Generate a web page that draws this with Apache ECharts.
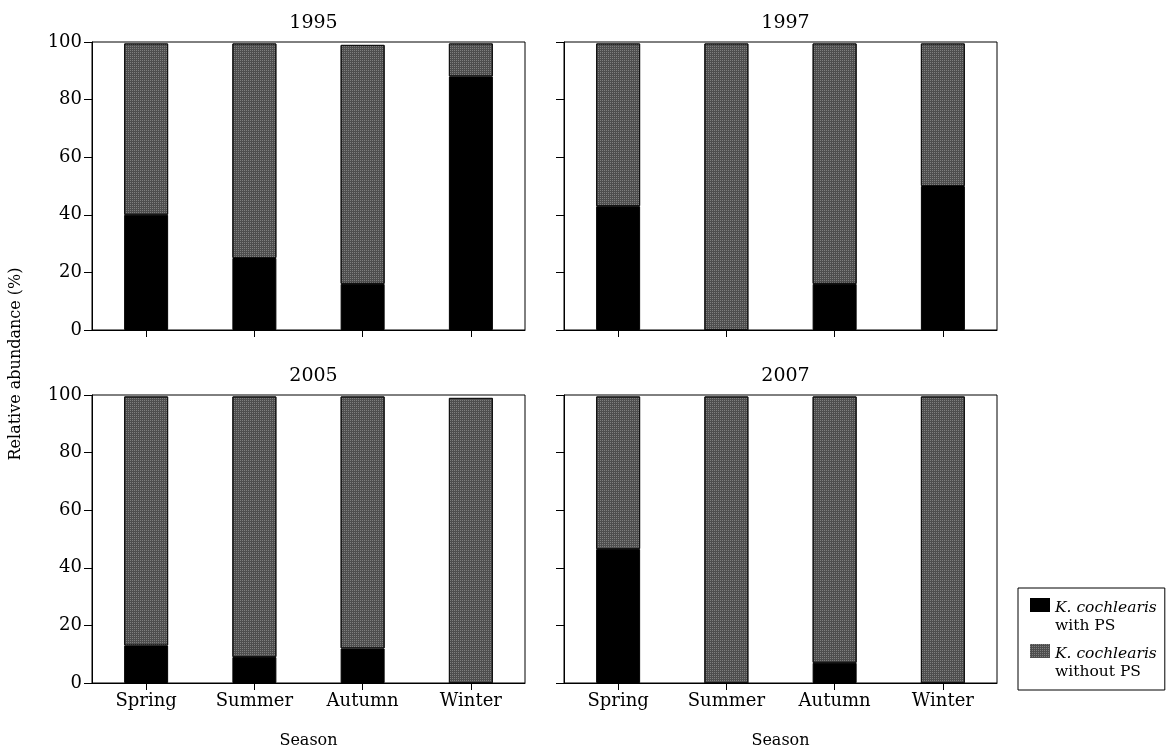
<!DOCTYPE html>
<html><head><meta charset="utf-8">
<script src="https://cdn.jsdelivr.net/npm/echarts@6/dist/echarts.min.js"></script>
<style>html,body{margin:0;padding:0;background:#fff}#c{width:1172px;height:753px}</style>
</head><body><div id="c"></div>
<script>
// ---- data ----
const seasons = ['Spring', 'Summer', 'Autumn', 'Winter'];
const years = ['1995', '1997', '2005', '2007'];
const yTicks = [0, 20, 40, 60, 80, 100];
const withPS_1995 = [40, 25, 16, 88];
const withoutPS_1995 = [59.5, 74.5, 83, 11.5];
const withPS_1997 = [43, 0, 16, 50];
const withoutPS_1997 = [56.5, 99.5, 83.5, 49.5];
const withPS_2005 = [13, 9, 12, 0];
const withoutPS_2005 = [86.5, 90.5, 87.5, 99];
const withPS_2007 = [46.5, 0, 7, 0];
const withoutPS_2007 = [53, 99.5, 92.5, 99.5];
const seriesNames = ['K. cochlearis with PS', 'K. cochlearis without PS'];

const withPS = [withPS_1995, withPS_1997, withPS_2005, withPS_2007];
const withoutPS = [withoutPS_1995, withoutPS_1997, withoutPS_2005, withoutPS_2007];

const FONT = 'DejaVu Serif';
const BLACK = '#000000';
const GRAY = '#4e4e4e';
const grayDecal = {
  symbol: 'rect', symbolSize: 1, color: 'rgba(255,255,255,0.28)',
  dashArrayX: [1, 1], dashArrayY: [1, 1], rotation: 0
};

const gridPos = [
  {left: 92, top: 42}, {left: 564, top: 42},
  {left: 92, top: 395}, {left: 564, top: 395}
];
const GW = 433, GH = 288;

const grids = gridPos.map(p => ({
  left: p.left, top: p.top, width: GW, height: GH,
  show: true, borderColor: '#000', borderWidth: 1, backgroundColor: '#fff'
}));

const xAxes = gridPos.map((p, i) => ({
  type: 'category', gridIndex: i, data: seasons, boundaryGap: true,
  axisLine: {lineStyle: {color: '#000', width: 1}},
  axisTick: {show: true, alignWithLabel: true, length: 7, lineStyle: {color: '#000'}},
  axisLabel: {show: i >= 2, color: '#000', fontFamily: FONT, fontSize: 18, margin: 9},
  name: i >= 2 ? 'Season' : '',
  nameLocation: 'middle', nameGap: 50,
  nameTextStyle: {color: '#000', fontFamily: FONT, fontSize: 16}
}));

const yAxes = gridPos.map((p, i) => ({
  type: 'value', gridIndex: i, min: yTicks[0], max: yTicks[yTicks.length - 1],
  interval: yTicks[1] - yTicks[0],
  axisLine: {show: true, lineStyle: {color: '#000', width: 1}},
  axisTick: {show: true, length: 8, lineStyle: {color: '#000'}},
  axisLabel: {show: i % 2 === 0, color: '#000', fontFamily: FONT, fontSize: 18, margin: 10},
  splitLine: {show: false}
}));

const series = [];
years.forEach((y, i) => {
  series.push({
    name: seriesNames[0], type: 'bar', stack: 's' + i,
    xAxisIndex: i, yAxisIndex: i, data: withPS[i], barWidth: 44,
    itemStyle: {color: BLACK, borderColor: '#000', borderWidth: 1}
  });
  series.push({
    name: seriesNames[1], type: 'bar', stack: 's' + i,
    xAxisIndex: i, yAxisIndex: i, data: withoutPS[i], barWidth: 44,
    itemStyle: {color: GRAY, borderColor: '#111', borderWidth: 1, decal: grayDecal}
  });
});

const titles = years.map((y, i) => ({
  text: y, left: gridPos[i].left + GW / 2, top: gridPos[i].top - 33,
  textAlign: 'center',
  textStyle: {fontFamily: FONT, fontSize: 19, fontWeight: 'normal', color: '#000'}
}));

const chart = echarts.init(document.getElementById('c'), null, {renderer: 'canvas'});
chart.setOption({
  backgroundColor: '#fff',
  animation: false,
  aria: {enabled: false},
  title: titles,
  grid: grids,
  xAxis: xAxes,
  yAxis: yAxes,
  series: series,
  legend: {
    data: seriesNames,
    orient: 'vertical',
    left: 1018, top: 588,
    width: 147,
    padding: [10, 8, 8, 12],
    itemGap: 8,
    itemWidth: 20, itemHeight: 38,
    icon: 'path://M0,0H20V14H0Z M0,38L20,38',
    borderColor: '#000', borderWidth: 1, borderRadius: 0,
    backgroundColor: '#fff',
    itemStyle: {borderWidth: 0},
    formatter: function (name) {
      const parts = name.split(' ');
      return '{i|' + parts[0] + ' ' + parts[1] + '}\n{n|' + parts.slice(2).join(' ') + '}';
    },
    textStyle: {
      color: '#000', fontFamily: FONT,
      rich: {
        i: {fontFamily: FONT, fontStyle: 'italic', fontSize: 15.5, lineHeight: 18, color: '#000'},
        n: {fontFamily: FONT, fontSize: 15.5, lineHeight: 18, color: '#000'}
      }
    }
  },
  graphic: [{
    type: 'text',
    rotation: Math.PI / 2,
    x: 16, y: 364,
    style: {text: 'Relative abundance (%)', fontFamily: FONT, fontSize: 16, fill: '#000',
            align: 'center', verticalAlign: 'middle'}
  }]
});
</script>
</body></html>
